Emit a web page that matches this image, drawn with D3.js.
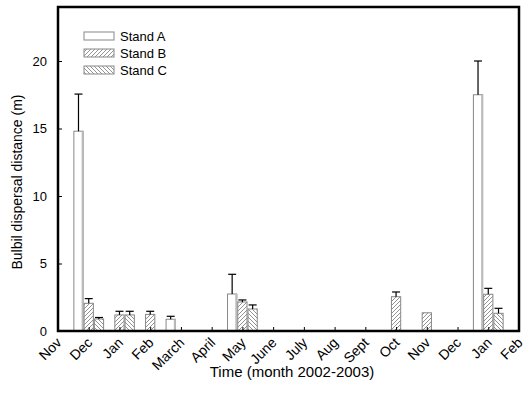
<!DOCTYPE html>
<html>
<head>
<meta charset="utf-8">
<script src="https://d3js.org/d3.v7.min.js"></script>
<style>
  body { margin: 0; background: #fff; }
  svg text { font-family: Arial, "Liberation Sans", sans-serif; fill: #000; }
</style>
</head>
<body>
<div id="chart"></div>
<script>
// month labels, Nov 2002 .. Feb 2004 of the campaign
const months = ["Nov", "Dec", "Jan", "Feb", "March", "April", "May", "June",
  "July", "Aug", "Sept", "Oct", "Nov", "Dec", "Jan", "Feb"];
const stands = ["Stand A", "Stand B", "Stand C"];
const yTicks = [0, 5, 10, 15, 20];

// values per month index (null = no bar); err = mean + SE
const standA = [null, 14.8, null, null, 0.87, null, 2.74, null, null, null, null, null, null, null, 17.5, null];
const standAErr = [null, 17.55, null, null, 1.09, null, 4.2, null, null, null, null, null, null, null, 20.0, null];
const standB = [null, 2.05, 1.19, 1.23, null, null, 2.15, null, null, null, null, 2.54, 1.35, null, 2.72, null];
const standBErr = [null, 2.4, 1.46, 1.46, null, null, 2.3, null, null, null, null, 2.89, null, null, 3.16, null];
const standC = [null, 0.89, 1.19, null, null, null, 1.63, null, null, null, null, null, null, null, 1.31, null];
const standCErr = [null, 1.0, 1.46, null, null, null, 1.93, null, null, null, null, null, null, null, 1.68, null];

const series = [
  { name: stands[0], vals: standA, errs: standAErr, fill: "#fff" },
  { name: stands[1], vals: standB, errs: standBErr, fill: "url(#hatchB)" },
  { name: stands[2], vals: standC, errs: standCErr, fill: "url(#hatchC)" }
];

const W = 527, H = 412;
const margin = { top: 7, right: 8, bottom: 81, left: 58 };
const width = W - margin.left - margin.right;
const height = H - margin.top - margin.bottom;

const svg = d3.select("#chart").append("svg")
  .attr("width", W).attr("height", H);

const defs = svg.append("defs");
function hatch(id, dir) {
  const p = defs.append("pattern").attr("id", id)
    .attr("patternUnits", "userSpaceOnUse").attr("width", 4).attr("height", 4);
  p.append("rect").attr("width", 4).attr("height", 4).attr("fill", "#fff");
  const d = dir > 0 ? "M-1,1 l2,-2 M0,4 l4,-4 M3,5 l2,-2" : "M-1,3 l2,2 M0,0 l4,4 M3,-1 l2,2";
  p.append("path").attr("d", d).attr("stroke", "#777").attr("stroke-width", 0.8);
}
hatch("hatchB", 1);
hatch("hatchC", -1);

const g = svg.append("g").attr("transform", `translate(${margin.left},${margin.top})`);

const x = d3.scaleLinear().domain([0, months.length - 1]).range([0, width]);
const y = d3.scaleLinear().domain([0, 24]).range([height, 0]);
const step = x(1) - x(0);
const bw = step / 3;

series.forEach((s, si) => {
  const idx = s.vals.map((v, i) => i).filter(i => s.vals[i] !== null);
  const off = (si - 1.5) * bw;

  g.selectAll(".bar" + si).data(idx).enter().append("rect")
    .attr("x", i => x(i) + off + 0.5)
    .attr("y", i => y(s.vals[i]))
    .attr("width", bw - 1)
    .attr("height", i => y(0) - y(s.vals[i]))
    .attr("fill", s.fill)
    .attr("stroke", "#888")
    .attr("stroke-width", 1);

  if (si === 0) {
    // light grey right edge of the open bars
    g.selectAll(".edge").data(idx).enter().append("line")
      .attr("x1", i => x(i) + off + bw - 1).attr("x2", i => x(i) + off + bw - 1)
      .attr("y1", i => y(s.vals[i])).attr("y2", y(0))
      .attr("stroke", "#bbb").attr("stroke-width", 2);
  }

  const eidx = idx.filter(i => s.errs[i] !== null);
  const cx = i => x(i) + off + bw / 2;
  g.selectAll(".err" + si).data(eidx).enter().append("line")
    .attr("x1", cx).attr("x2", cx)
    .attr("y1", i => y(s.vals[i])).attr("y2", i => y(s.errs[i]))
    .attr("stroke", "#000").attr("stroke-width", 1.2);
  g.selectAll(".cap" + si).data(eidx).enter().append("line")
    .attr("x1", i => cx(i) - 4).attr("x2", i => cx(i) + 4)
    .attr("y1", i => y(s.errs[i])).attr("y2", i => y(s.errs[i]))
    .attr("stroke", "#000").attr("stroke-width", 1.2);
});

// y axis ticks (inward)
const yAxis = d3.axisRight(y).tickValues(yTicks).tickSize(4).tickFormat("");
g.append("g").call(yAxis).call(a => a.select(".domain").remove())
  .selectAll("line").attr("stroke", "#000");
g.selectAll(".ylab").data(yTicks).enter().append("text")
  .attr("x", -11).attr("y", d => y(d)).attr("dy", "0.35em")
  .attr("text-anchor", "end").style("font-size", "13px").text(d => d);

// x axis ticks (inward)
const xAxis = d3.axisTop(x).tickValues(d3.range(months.length)).tickSize(4).tickFormat("");
g.append("g").attr("transform", `translate(0,${height})`).call(xAxis)
  .call(a => a.select(".domain").remove())
  .selectAll("line").attr("stroke", "#000");
g.selectAll(".xlab").data(months).enter().append("text")
  .attr("transform", (d, i) => `translate(${x(i) - 3},${height + 5}) rotate(-45)`)
  .attr("text-anchor", "end").attr("dy", "0.75em")
  .style("font-size", "14px").text(d => d);

// frame
g.append("rect").attr("width", width).attr("height", height)
  .attr("fill", "none").attr("stroke", "#000").attr("stroke-width", 2.5);

// axis titles
svg.append("text").attr("x", 292).attr("y", 377).attr("text-anchor", "middle")
  .style("font-size", "15px").text("Time (month 2002-2003)");
svg.append("text").attr("transform", "translate(22,182) rotate(-90)")
  .attr("text-anchor", "middle").style("font-size", "14px")
  .text("Bulbil dispersal distance (m)");

// legend
const lg = svg.append("g").attr("transform", "translate(84,32)");
series.forEach((s, i) => {
  lg.append("rect").attr("x", 0).attr("y", i * 17).attr("width", 30).attr("height", 8)
    .attr("fill", s.fill).attr("stroke", "#888");
  lg.append("text").attr("x", 36).attr("y", i * 17 + 4).attr("dy", "0.38em")
    .style("font-size", "13px").text(s.name);
});
</script>
</body>
</html>
